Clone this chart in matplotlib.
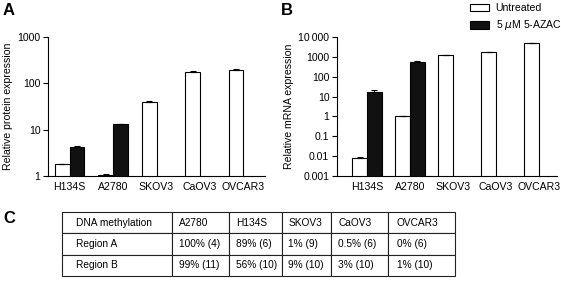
import matplotlib
matplotlib.use("Agg")
import matplotlib.pyplot as plt
from matplotlib.patches import Patch
import numpy as np

plt.rcParams['font.family'] = ['Liberation Sans', 'DejaVu Sans']

cell_lines = ["H134S", "A2780", "SKOV3", "CaOV3", "OVCAR3"]

# Panel A: relative protein expression
protein_untreated = [1.8, 1.05, 40, 180, 195]
protein_untreated_err = [0.03, 0.03, 1.5, 8, 5]
protein_azac = [4.3, 13.2, np.nan, np.nan, np.nan]
protein_azac_err = [0.2, 0.3, 0, 0, 0]

# Panel B: relative mRNA expression
mrna_untreated = [0.008, 1.0, 1200, 1700, 5000]
mrna_untreated_err = [0.001, 0.08, 0, 0, 0]
mrna_azac = [18, 550, np.nan, np.nan, np.nan]
mrna_azac_err = [4, 60, 0, 0, 0]

# Panel C: DNA methylation table
table_header = ["DNA methylation", "A2780", "H134S", "SKOV3", "CaOV3", "OVCAR3"]
region_a = ["Region A", "100% (4)", "89% (6)", "1% (9)", "0.5% (6)", "0% (6)"]
region_b = ["Region B", "99% (11)", "56% (10)", "9% (10)", "3% (10)", "1% (10)"]

W, H = 561, 297
fig = plt.figure(figsize=(W / 100, H / 100), dpi=100)


def fax(l, t, r, b):
    return fig.add_axes([l / W, 1 - b / H, (r - l) / W, (b - t) / H])


bw = 0.34
x = np.arange(len(cell_lines))
FS = 7.6


def draw(ax, unt, unt_err, aza, aza_err, ylim, ticks, ticklabels, ylabel, xlim):
    ax.set_yscale('log')
    ax.bar(x - bw / 2, unt, bw, color='white', edgecolor='black', linewidth=0.8,
           yerr=[np.zeros(len(unt)), unt_err], capsize=2.5,
           error_kw=dict(elinewidth=0.8, capthick=0.8, ecolor='black'))
    ax.bar(x + bw / 2, aza, bw, color='#111111', edgecolor='black', linewidth=0.8,
           yerr=[np.zeros(len(aza)), aza_err], capsize=2.5,
           error_kw=dict(elinewidth=0.8, capthick=0.8, ecolor='black'))
    ax.set_ylim(*ylim)
    ax.set_xlim(*xlim)
    ax.set_yticks(ticks)
    ax.set_yticklabels(ticklabels)
    ax.minorticks_off()
    ax.set_xticks(x)
    ax.set_xticklabels(cell_lines)
    ax.tick_params(axis='x', length=0, labelsize=FS, pad=4)
    ax.tick_params(axis='y', length=3.5, width=0.8, labelsize=FS, pad=2)
    for s in ['top', 'right']:
        ax.spines[s].set_visible(False)
    for s in ['left', 'bottom']:
        ax.spines[s].set_linewidth(0.8)
    ax.set_ylabel(ylabel, fontsize=FS, labelpad=3)


axA = fax(48, 37, 265, 176)
draw(axA, protein_untreated, protein_untreated_err, protein_azac, protein_azac_err,
     (1, 1000), [1, 10, 100, 1000], ["1", "10", "100", "1000"],
     "Relative protein expression", (-0.5, 4.5))

axB = fax(337, 37, 557, 176)
draw(axB, mrna_untreated, mrna_untreated_err, mrna_azac, mrna_azac_err,
     (0.001, 10000), [0.001, 0.01, 0.1, 1, 10, 100, 1000, 10000],
     ["0.001", "0.01", "0.1", "1", "10", "100", "1000", "10\u2009000"],
     "Relative mRNA expression", (-0.7, 4.42))

handles = [Patch(facecolor='white', edgecolor='black', linewidth=0.8),
           Patch(facecolor='#111111', edgecolor='black', linewidth=0.8)]
fig.legend(handles, ["Untreated", "5 $\\mathit{\\mu}$M 5-AZAC"], loc='upper left',
           bbox_to_anchor=(466 / W, 1 + 1 / H), frameon=False, fontsize=FS,
           handlelength=1.8, handleheight=0.7, handletextpad=0.6, labelspacing=0.5,
           borderaxespad=0)

fig.text(3 / W, 1 - 3 / H, "A", fontsize=12, fontweight='bold', va='top', ha='left')
fig.text(281 / W, 1 - 3 / H, "B", fontsize=12, fontweight='bold', va='top', ha='left')
fig.text(3 / W, 1 - 211 / H, "C", fontsize=12, fontweight='bold', va='top', ha='left')

# table
axC = fax(62, 212, 455, 276)
axC.axis('off')
col_edges = [62, 172, 229, 282, 331, 388, 455]
widths = np.diff(col_edges) / (col_edges[-1] - col_edges[0])
tbl = axC.table(cellText=[table_header, region_a, region_b], colWidths=list(widths),
                cellLoc='left', bbox=[0, 0, 1, 1])
tbl.auto_set_font_size(False)
for (r, c), cell in tbl.get_celld().items():
    cell.set_linewidth(0.8)
    cell.set_edgecolor('#222222')
    cell.get_text().set_fontsize(7.3)
    cell.PAD = 0.13

fig.savefig("out.png", dpi=100)
